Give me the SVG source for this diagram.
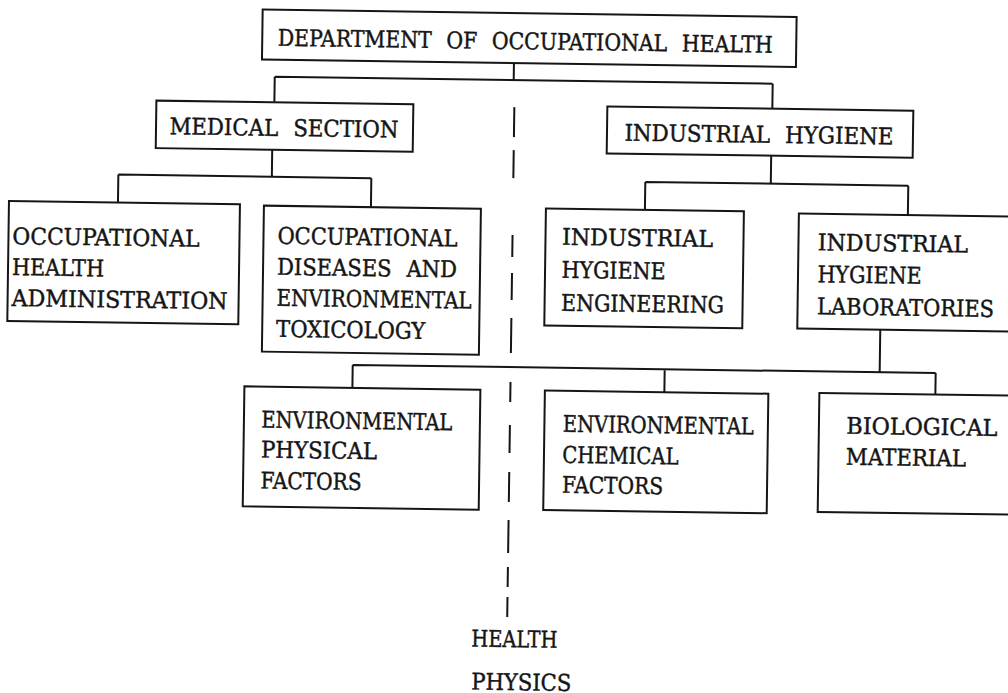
<svg xmlns="http://www.w3.org/2000/svg" width="1008" height="693" viewBox="0 0 1008 693">
  <style>
    .box { fill: none; stroke: #151515; stroke-width: 2; }
    .wire { fill: none; stroke: #151515; stroke-width: 2; }
    .dash { fill: none; stroke: #151515; stroke-width: 2; }
    .t { font-family: "DejaVu Serif", "Liberation Serif", serif; font-size: 23px; fill: #151515;
         stroke: #151515; stroke-width: 0.45; word-spacing: 9px; }
  </style>
  <rect width="1008" height="693" fill="#ffffff"/>
  <!-- whole chart sits slightly tilted on the page -->
  <g transform="rotate(0.8 504 346)">
    <g id="connectors">
      <!-- department to its two sections -->
      <path class="wire" d="M510 63 V80 M271 80 H769 M271 80 V105 M769 80 V105"/>
      <!-- medical section branches -->
      <path class="wire" d="M269.5 153 V180 M116 180 H369 M116 180 V208 M369 180 V209"/>
      <!-- industrial hygiene branches -->
      <path class="wire" d="M768.5 152 V180 M643 180 H906 M643 180 V208 M906 180 V209.5"/>
      <!-- laboratory branches -->
      <path class="wire" d="M880 324.5 V367 M353 367 H936 M353 367 V390 M665 367 V390 M936 367 V388.5"/>
      <!-- broken line down to health physics -->
      <path class="dash" d="M511 107 V137 M511 150 V178 M511 235 V257 M511 273 V300 M511 318 V353 M511 382 V402 M511 425 V453 M511 472 V502 M511 520 V553 M511 567 V587 M511 597 V617"/>
    </g>

    <g id="dept">
      <rect class="box" x="258" y="13" width="534" height="50"/>
      <text class="t" x="273.5" y="49" textLength="495" lengthAdjust="spacingAndGlyphs">DEPARTMENT OF OCCUPATIONAL HEALTH</text>
    </g>

    <g id="medical">
      <rect class="box" x="153" y="105.5" width="257" height="47.5"/>
      <text class="t" x="166.5" y="139" textLength="229" lengthAdjust="spacingAndGlyphs">MEDICAL SECTION</text>
    </g>

    <g id="hygiene">
      <rect class="box" x="604" y="105" width="306" height="47"/>
      <text class="t" x="621.5" y="139" textLength="269" lengthAdjust="spacingAndGlyphs">INDUSTRIAL HYGIENE</text>
    </g>

    <g id="oha">
      <rect class="box" x="7" y="208" width="231" height="120"/>
      <text class="t" x="11" y="251" textLength="187" lengthAdjust="spacingAndGlyphs">OCCUPATIONAL</text>
      <text class="t" x="11" y="282" textLength="92" lengthAdjust="spacingAndGlyphs">HEALTH</text>
      <text class="t" x="11" y="313" textLength="216" lengthAdjust="spacingAndGlyphs">ADMINISTRATION</text>
    </g>

    <g id="odet">
      <rect class="box" x="262" y="209" width="217" height="146"/>
      <text class="t" x="276" y="247" textLength="180" lengthAdjust="spacingAndGlyphs">OCCUPATIONAL</text>
      <text class="t" x="276" y="278" textLength="180" lengthAdjust="spacingAndGlyphs">DISEASES AND</text>
      <text class="t" x="276" y="309" textLength="195" lengthAdjust="spacingAndGlyphs">ENVIRONMENTAL</text>
      <text class="t" x="276" y="340" textLength="149" lengthAdjust="spacingAndGlyphs">TOXICOLOGY</text>
    </g>

    <g id="ihe">
      <rect class="box" x="544" y="208" width="198" height="117"/>
      <text class="t" x="560.5" y="244" textLength="151" lengthAdjust="spacingAndGlyphs">INDUSTRIAL</text>
      <text class="t" x="560.5" y="277" textLength="104" lengthAdjust="spacingAndGlyphs">HYGIENE</text>
      <text class="t" x="560.5" y="310" textLength="163" lengthAdjust="spacingAndGlyphs">ENGINEERING</text>
    </g>

    <g id="ihl">
      <rect class="box" x="797" y="209.5" width="230" height="115"/>
      <text class="t" x="816.5" y="246" textLength="150" lengthAdjust="spacingAndGlyphs">INDUSTRIAL</text>
      <text class="t" x="816.5" y="278" textLength="104" lengthAdjust="spacingAndGlyphs">HYGIENE</text>
      <text class="t" x="816.5" y="310" textLength="177" lengthAdjust="spacingAndGlyphs">LABORATORIES</text>
    </g>

    <g id="epf">
      <rect class="box" x="245" y="390" width="236" height="120"/>
      <text class="t" x="262.5" y="431" textLength="191" lengthAdjust="spacingAndGlyphs">ENVIRONMENTAL</text>
      <text class="t" x="262.5" y="461" textLength="116" lengthAdjust="spacingAndGlyphs">PHYSICAL</text>
      <text class="t" x="262.5" y="492" textLength="101" lengthAdjust="spacingAndGlyphs">FACTORS</text>
    </g>

    <g id="ecf">
      <rect class="box" x="545.5" y="390" width="223.5" height="119.5"/>
      <text class="t" x="564" y="431" textLength="191" lengthAdjust="spacingAndGlyphs">ENVIRONMENTAL</text>
      <text class="t" x="564" y="462" textLength="116" lengthAdjust="spacingAndGlyphs">CHEMICAL</text>
      <text class="t" x="564" y="492" textLength="101" lengthAdjust="spacingAndGlyphs">FACTORS</text>
    </g>

    <g id="bio">
      <rect class="box" x="820" y="388.5" width="210" height="119"/>
      <text class="t" x="847.5" y="429" textLength="151" lengthAdjust="spacingAndGlyphs">BIOLOGICAL</text>
      <text class="t" x="847.5" y="460" textLength="120" lengthAdjust="spacingAndGlyphs">MATERIAL</text>
    </g>

    <g id="physics">
      <text class="t" x="475.5" y="647" textLength="86" lengthAdjust="spacingAndGlyphs">HEALTH</text>
      <text class="t" x="476" y="690" textLength="100" lengthAdjust="spacingAndGlyphs">PHYSICS</text>
    </g>
  </g>
</svg>
